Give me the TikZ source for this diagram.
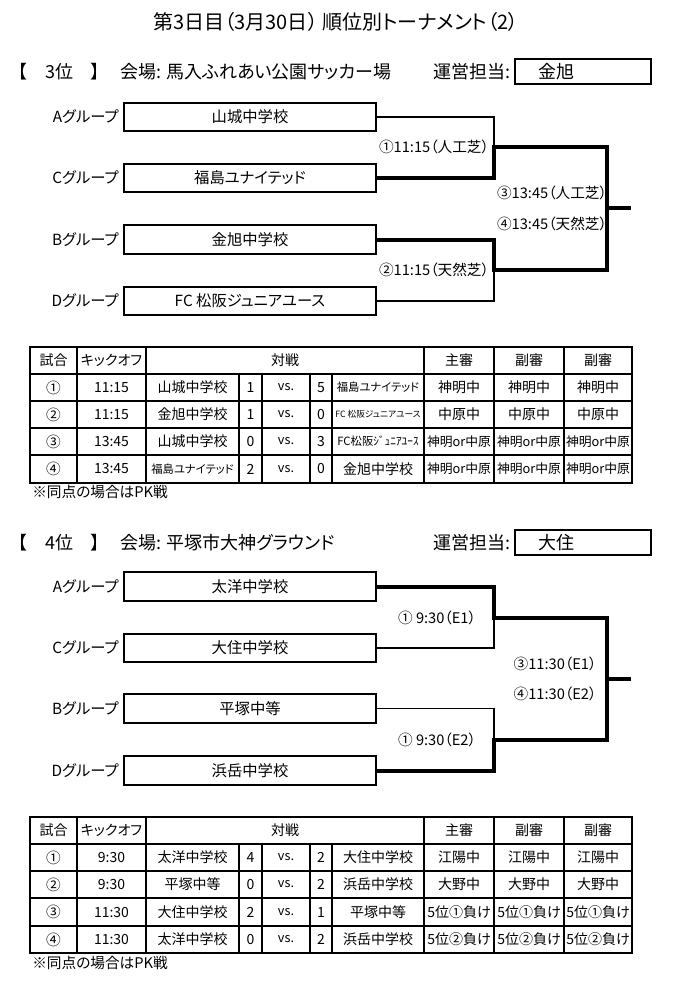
\documentclass[tikz,border=0pt]{standalone}
\usepackage{fontspec}
\setmainfont{Noto Sans CJK JP}[RawFeature=+palt]
\usepackage{tikz}
\usetikzlibrary{calc,positioning}

\begin{document}
\begin{tikzpicture}[x=0.75pt,y=-0.75pt,
  teambox/.style={draw,line width=1.5pt,minimum width=189pt,minimum height=21.5pt,inner sep=0pt,font=\fontsize{11.5}{13}\selectfont},
  staffbox/.style={draw,line width=1.5pt,minimum width=102pt,minimum height=19pt,inner sep=0pt},
  grp/.style={font=\fontsize{11.5}{13}\selectfont},
  game/.style={font=\fontsize{11}{12}\selectfont},
  head/.style={font=\fontsize{13.5}{15}\selectfont},
  lose/.style={line width=1.1pt},
  win/.style={line width=3pt},
  outer/.style={line width=1.8pt},
  inner/.style={line width=0.9pt},
  mid/.style={line width=1.4pt},
  cell/.style={font=\fontsize{10.5}{12}\selectfont},
  refcell/.style={font=\fontsize{9.6}{11}\selectfont},
  num/.style={font=\fontsize{11}{12}\selectfont},
  vs/.style={font=\fontsize{9.5}{11}\selectfont},
  small/.style={font=\fontsize{8.5}{10}\selectfont},
  tiny/.style={font=\fontsize{6.5}{8}\selectfont},
  note/.style={font=\fontsize{11}{13}\selectfont,anchor=west}]
\tikzstyle{every node}+=[inner sep=0pt]
\useasboundingbox (0,0) rectangle (673,982);

\node[font=\fontsize{15}{17}\selectfont] (ttl) at (336,22) {第3日目（3月30日） 順位別トーナメント（2）};

% 3位
\node[head,anchor=west] (rank3) at (18,72) {【　3位　】};
\node[head,anchor=west] (venue3) at (120,72) {会場: 馬入ふれあい公園サッカー場};
\node[head,anchor=east] (staff3) at (511,72) {運営担当:};
\node[staffbox] (sbox3) at (583,71.5) {};
\node[head,right=18pt of sbox3.west] (sname3) {金旭};

\node[teambox] (y3a) at (250,117) {山城中学校};
\node[teambox] (y3c) at (250,178) {福島ユナイテッド};
\node[teambox] (y3b) at (250,239.5) {金旭中学校};
\node[teambox] (y3d) at (250,301) {FC 松阪ジュニアユース};
\node[grp,left=3pt of y3a] (g3a) {Aグループ};
\node[grp,left=3pt of y3c] (g3c) {Cグループ};
\node[grp,left=3pt of y3b] (g3b) {Bグループ};
\node[grp,left=3pt of y3d] (g3d) {Dグループ};

\coordinate (m31) at (494,147);
\coordinate (m32) at (494,270);
\coordinate (f3) at (607,208);
\coordinate (o3) at (631,208);
\draw[lose] (y3a.east) -| (m31);
\draw[win] (y3c.east) -| (m31) -| (f3);
\draw[win] (y3b.east) -| (m32) -| (f3);
\draw[lose] (y3d.east) -| (m32);
\draw[win] (f3) -- (o3);

\node[game] (k31) at (434,147) {①11:15（人工芝）};
\node[game] (k32) at (434,270) {②11:15（天然芝）};
\node[game] (k33) at (552,193) {③13:45（人工芝）};
\node[game] (k34) at (552,224) {④13:45（天然芝）};

% 3位 table
\draw[outer] (30,347) rectangle (632,483);
\draw[inner] (30,374) -- (632,374);
\draw[inner] (30,401) -- (632,401);
\draw[mid] (30,428) -- (632,428);
\draw[inner] (30,455) -- (632,455);
\draw[inner] (77,347) -- (77,483);
\draw[inner] (146,347) -- (146,483);
\draw[inner] (424,347) -- (424,483);
\draw[inner] (494,347) -- (494,483);
\draw[inner] (564,347) -- (564,483);
\draw[inner] (239,374) -- (239,483);
\draw[inner] (262,374) -- (262,483);
\draw[inner] (310,374) -- (310,483);
\draw[inner] (332,374) -- (332,483);

\node[cell] (t3h1) at (53.5,360.5) {試合};
\node[cell] (t3h2) at (111.5,360.5) {キックオフ};
\node[cell] (t3h3) at (285,360.5) {対戦};
\node[cell] (t3h4) at (459,360.5) {主審};
\node[cell] (t3h5) at (529,360.5) {副審};
\node[cell] (t3h6) at (598,360.5) {副審};

\node[num] (t31a) at (53.5,387.5) {①};
\node[cell] (t31b) at (111.5,387.5) {11:15};
\node[cell] (t31c) at (192.5,387.5) {山城中学校};
\node[cell] (t31d) at (250.5,387.5) {1};
\node[vs] (t31e) at (286,387.5) {vs.};
\node[cell] (t31f) at (321,387.5) {5};
\node[small] (t31g) at (378,387.5) {福島ユナイテッド};
\node[cell] (t31h) at (459,387.5) {神明中};
\node[cell] (t31i) at (529,387.5) {神明中};
\node[cell] (t31j) at (598,387.5) {神明中};

\node[num] (t32a) at (53.5,414.5) {②};
\node[cell] (t32b) at (111.5,414.5) {11:15};
\node[cell] (t32c) at (192.5,414.5) {金旭中学校};
\node[cell] (t32d) at (250.5,414.5) {1};
\node[vs] (t32e) at (286,414.5) {vs.};
\node[cell] (t32f) at (321,414.5) {0};
\node[tiny] (t32g) at (378,414.5) {FC 松阪ジュニアユース};
\node[cell] (t32h) at (459,414.5) {中原中};
\node[cell] (t32i) at (529,414.5) {中原中};
\node[cell] (t32j) at (598,414.5) {中原中};

\node[num] (t33a) at (53.5,441.5) {③};
\node[cell] (t33b) at (111.5,441.5) {13:45};
\node[cell] (t33c) at (192.5,441.5) {山城中学校};
\node[cell] (t33d) at (250.5,441.5) {0};
\node[vs] (t33e) at (286,441.5) {vs.};
\node[cell] (t33f) at (321,441.5) {3};
\node[small] (t33g) at (378,441.5) {FC松阪ｼﾞｭﾆｱﾕｰｽ};
\node[refcell] (t33h) at (459,441.5) {神明or中原};
\node[refcell] (t33i) at (529,441.5) {神明or中原};
\node[refcell] (t33j) at (598,441.5) {神明or中原};

\node[num] (t34a) at (53.5,469) {④};
\node[cell] (t34b) at (111.5,469) {13:45};
\node[small] (t34c) at (192.5,469) {福島ユナイテッド};
\node[cell] (t34d) at (250.5,469) {2};
\node[vs] (t34e) at (286,469) {vs.};
\node[cell] (t34f) at (321,469) {0};
\node[cell] (t34g) at (378,469) {金旭中学校};
\node[refcell] (t34h) at (459,469) {神明or中原};
\node[refcell] (t34i) at (529,469) {神明or中原};
\node[refcell] (t34j) at (598,469) {神明or中原};

\node[note] (pk3) at (32,492) {※同点の場合はPK戦};

% 4位
\node[head,anchor=west] (rank4) at (18,543) {【　4位　】};
\node[head,anchor=west] (venue4) at (120,543) {会場: 平塚市大神グラウンド};
\node[head,anchor=east] (staff4) at (511,543) {運営担当:};
\node[staffbox] (sbox4) at (583,542.5) {};
\node[head,right=18pt of sbox4.west] (sname4) {大住};

\node[teambox] (y4a) at (250,586.5) {太洋中学校};
\node[teambox] (y4c) at (250,648) {大住中学校};
\node[teambox] (y4b) at (250,708.5) {平塚中等};
\node[teambox] (y4d) at (250,770.5) {浜岳中学校};
\node[grp,left=3pt of y4a] (g4a) {Aグループ};
\node[grp,left=3pt of y4c] (g4c) {Cグループ};
\node[grp,left=3pt of y4b] (g4b) {Bグループ};
\node[grp,left=3pt of y4d] (g4d) {Dグループ};

\coordinate (m41) at (494,618);
\coordinate (m42) at (494,740);
\coordinate (f4) at (607,679);
\coordinate (o4) at (631,679);
\draw[win] (y4a.east) -| (m41) -| (f4);
\draw[lose] (y4c.east) -| (m41);
\draw[lose] (y4b.east) -| (m42);
\draw[win] (y4d.east) -| (m42) -| (f4);
\draw[win] (f4) -- (o4);

\node[game] (k41) at (437,618) {① 9:30（E1）};
\node[game] (k42) at (437,740) {① 9:30（E2）};
\node[game] (k43) at (555,664) {③11:30（E1）};
\node[game] (k44) at (555,694) {④11:30（E2）};

% 4位 table
\draw[outer] (30,817) rectangle (632,953);
\draw[inner] (30,844) -- (632,844);
\draw[inner] (30,871) -- (632,871);
\draw[mid] (30,898) -- (632,898);
\draw[inner] (30,926) -- (632,926);
\draw[inner] (77,817) -- (77,953);
\draw[inner] (146,817) -- (146,953);
\draw[inner] (424,817) -- (424,953);
\draw[inner] (494,817) -- (494,953);
\draw[inner] (564,817) -- (564,953);
\draw[inner] (239,844) -- (239,953);
\draw[inner] (262,844) -- (262,953);
\draw[inner] (310,844) -- (310,953);
\draw[inner] (332,844) -- (332,953);

\node[cell] (t4h1) at (53.5,830.5) {試合};
\node[cell] (t4h2) at (111.5,830.5) {キックオフ};
\node[cell] (t4h3) at (285,830.5) {対戦};
\node[cell] (t4h4) at (459,830.5) {主審};
\node[cell] (t4h5) at (529,830.5) {副審};
\node[cell] (t4h6) at (598,830.5) {副審};

\node[num] (t41a) at (53.5,857.5) {①};
\node[cell] (t41b) at (111.5,857.5) {9:30};
\node[cell] (t41c) at (192.5,857.5) {太洋中学校};
\node[cell] (t41d) at (250.5,857.5) {4};
\node[vs] (t41e) at (286,857.5) {vs.};
\node[cell] (t41f) at (321,857.5) {2};
\node[cell] (t41g) at (378,857.5) {大住中学校};
\node[cell] (t41h) at (459,857.5) {江陽中};
\node[cell] (t41i) at (529,857.5) {江陽中};
\node[cell] (t41j) at (598,857.5) {江陽中};

\node[num] (t42a) at (53.5,884.5) {②};
\node[cell] (t42b) at (111.5,884.5) {9:30};
\node[cell] (t42c) at (192.5,884.5) {平塚中等};
\node[cell] (t42d) at (250.5,884.5) {0};
\node[vs] (t42e) at (286,884.5) {vs.};
\node[cell] (t42f) at (321,884.5) {2};
\node[cell] (t42g) at (378,884.5) {浜岳中学校};
\node[cell] (t42h) at (459,884.5) {大野中};
\node[cell] (t42i) at (529,884.5) {大野中};
\node[cell] (t42j) at (598,884.5) {大野中};

\node[num] (t43a) at (53.5,912) {③};
\node[cell] (t43b) at (111.5,912) {11:30};
\node[cell] (t43c) at (192.5,912) {大住中学校};
\node[cell] (t43d) at (250.5,912) {2};
\node[vs] (t43e) at (286,912) {vs.};
\node[cell] (t43f) at (321,912) {1};
\node[cell] (t43g) at (378,912) {平塚中等};
\node[cell] (t43h) at (459,912) {5位①負け};
\node[cell] (t43i) at (529,912) {5位①負け};
\node[cell] (t43j) at (598,912) {5位①負け};

\node[num] (t44a) at (53.5,939.5) {④};
\node[cell] (t44b) at (111.5,939.5) {11:30};
\node[cell] (t44c) at (192.5,939.5) {太洋中学校};
\node[cell] (t44d) at (250.5,939.5) {0};
\node[vs] (t44e) at (286,939.5) {vs.};
\node[cell] (t44f) at (321,939.5) {2};
\node[cell] (t44g) at (378,939.5) {浜岳中学校};
\node[cell] (t44h) at (459,939.5) {5位②負け};
\node[cell] (t44i) at (529,939.5) {5位②負け};
\node[cell] (t44j) at (598,939.5) {5位②負け};

\node[note] (pk4) at (32,963) {※同点の場合はPK戦};
\end{tikzpicture}
\end{document}
